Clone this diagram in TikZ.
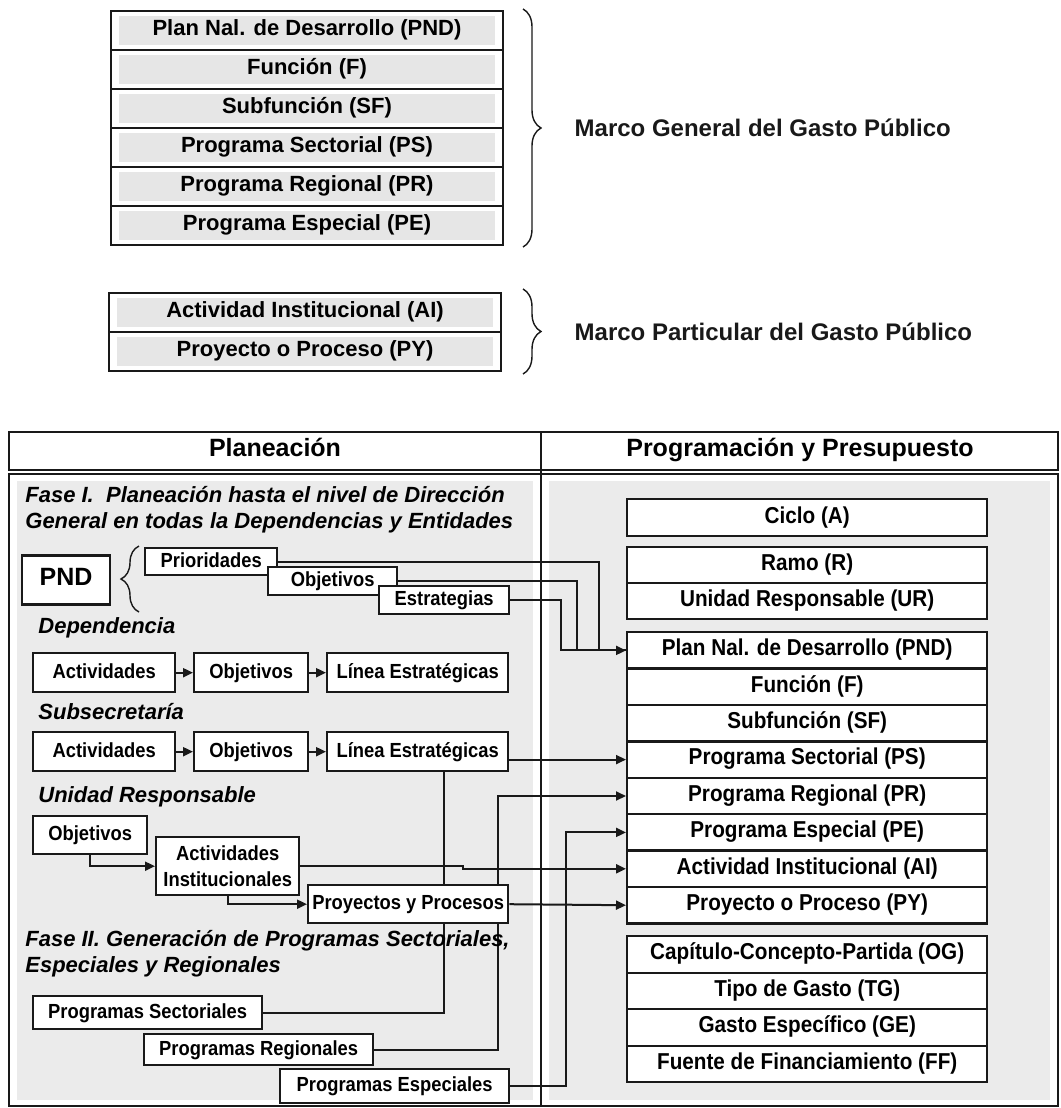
\documentclass[tikz,border=0pt]{standalone}
\usepackage{fontspec}
\setmainfont{Liberation Sans}
\newfontfamily\condfont{Liberation Sans}[FakeStretch=0.9]
\usepackage{tikz}
\usetikzlibrary{arrows.meta, positioning, calc, decorations.pathreplacing}
\definecolor{inkdark}{RGB}{25,25,25}
\definecolor{panelgray}{RGB}{235,235,235}
\definecolor{stackgray}{RGB}{230,230,230}
\pgfdeclarelayer{bg}
\pgfdeclarelayer{wires}
\pgfsetlayers{bg,wires,main}
\tikzset{
  stackrow/.style={rectangle, draw=inkdark, fill=white, line width=1pt,
    minimum width=196pt, minimum height=19.5pt, inner sep=0pt,
    text height=0.74em, text depth=0.21em,
    font=\bfseries\fontsize{11}{13}\selectfont,
    path picture={\fill[stackgray] ([shift={(4pt,-2.5pt)}]path picture bounding box.north west)
      rectangle ([shift={(-4pt,2.5pt)}]path picture bounding box.south east);}},
  rowbox/.style={rectangle, draw=inkdark, fill=white, line width=1.2pt,
    minimum width=180pt, inner sep=0pt, text height=0.74em, text depth=0.21em,
    font=\condfont\bfseries\fontsize{11.5}{13}\selectfont},
  smallbox/.style={rectangle, draw=inkdark, fill=white, line width=1.2pt,
    inner sep=0pt, align=center, text height=0.74em, text depth=0.21em,
    font=\condfont\bfseries\fontsize{10.2}{13}\selectfont},
  phase/.style={font=\bfseries\itshape\fontsize{11}{13}\selectfont,
    inner sep=0pt, anchor=west, align=left},
  hdr/.style={font=\bfseries\fontsize{12.5}{15}\selectfont, inner sep=0pt,
    text height=0.74em, text depth=0.21em},
  marco/.style={font=\bfseries\fontsize{12}{14}\selectfont, inner sep=0pt},
  brc/.style={decorate, decoration={brace, amplitude=9pt}, line width=0.7pt, inkdark},
  tabline/.style={line width=0.9pt, inkdark},
  conn/.style={line width=1pt, inkdark},
  arrow/.style={conn, -{Triangle[length=5pt, width=4.5pt]}}
}

\begin{document}
\begin{tikzpicture}[x=0.5pt, y=-0.5pt]
  \useasboundingbox (0,0) rectangle (1060,1108);

  % marco general
  \foreach \nm/\txt [count=\i from 0] in {mpnd/Plan Nal. de Desarrollo (PND), mf/Función (F),
      msf/Subfunción (SF), mps/Programa Sectorial (PS), mpr/Programa Regional (PR),
      mpe/Programa Especial (PE)}
    \node[stackrow, anchor=north west] (\nm) at (110,{10+38.9*\i}) {\txt};
  \draw[brc] (523,9) -- (523,247)
    node[midway, right=25.5pt, marco] (mgen) {Marco General del Gasto Público};

  % marco particular
  \node[stackrow, anchor=north west] (mai) at (108,292) {Actividad Institucional (AI)};
  \node[stackrow, anchor=north west] (mpy) at (108,331) {Proyecto o Proceso (PY)};
  \draw[brc] (523,289) -- (523,374)
    node[midway, right=25.5pt, marco] (mpart) {Marco Particular del Gasto Público};

  % table
  \begin{pgfonlayer}{bg}
    \fill[panelgray] (17,481) rectangle (533,1100);
    \fill[panelgray] (549,481) rectangle (1050,1100);
  \end{pgfonlayer}
  \draw[tabline] (9,432) rectangle (1058,470);
  \draw[tabline] (9,474) rectangle (1058,1106);
  \draw[tabline] (541,432) -- (541,1106);
  \node[hdr] (hplan) at (275,451) {Planeación};
  \node[hdr] (hprog) at (800,451) {Programación y Presupuesto};

  % planeacion
  \node[phase] (fase1) at (25,510) {Fase I.\ \ Planeación hasta el nivel de Dirección\\General en todas la Dependencias y Entidades};
  \node[smallbox, minimum width=44pt, minimum height=24.5pt,
    font=\bfseries\fontsize{12.5}{14}\selectfont] (pnd) at (66,580) {PND};
  \draw[brc] (139,612) -- (139,546);
  \node[smallbox, anchor=north west, minimum width=66pt, minimum height=13.5pt] (prio) at (144,547) {Prioridades};
  \node[smallbox, anchor=north west, minimum width=64.5pt, minimum height=14pt] (obj0) at (267,566) {Objetivos};
  \node[smallbox, anchor=north west, minimum width=65pt, minimum height=14pt] (estr) at (378,585) {Estrategias};

  \node[phase] (dep) at (38,628) {Dependencia};
  \node[smallbox, anchor=north west, minimum width=71pt, minimum height=19.5pt] (act1) at (32,652) {Actividades};
  \node[smallbox, anchor=north west, minimum width=57pt, minimum height=19.5pt] (obj1) at (193,652) {Objetivos};
  \node[smallbox, anchor=north west, minimum width=90.5pt, minimum height=19.5pt] (lin1) at (326,652) {Línea Estratégicas};

  \node[phase] (subs) at (38,712) {Subsecretaría};
  \node[smallbox, anchor=north west, minimum width=71pt, minimum height=19.5pt] (act2) at (32,731) {Actividades};
  \node[smallbox, anchor=north west, minimum width=57pt, minimum height=19.5pt] (obj2) at (193,731) {Objetivos};
  \node[smallbox, anchor=north west, minimum width=90.5pt, minimum height=19.5pt] (lin2) at (326,731) {Línea Estratégicas};

  \node[phase] (ures) at (38,797) {Unidad Responsable};
  \node[smallbox, anchor=north west, minimum width=57pt, minimum height=19pt] (obj3) at (32,815) {Objetivos};
  \node[smallbox, anchor=north west, minimum width=71.5pt, minimum height=29pt,
    text height=, text depth=] (actinst) at (155,836) {Actividades\\Institucionales};
  \node[smallbox, anchor=north west, minimum width=100pt, minimum height=19pt] (proy) at (307,884) {Proyectos y Procesos};

  \node[phase] (fase2) at (25,954) {Fase II. Generación de Programas Sectoriales,\\Especiales y Regionales};
  \node[smallbox, anchor=north west, minimum width=114.5pt, minimum height=16.5pt] (psect) at (32,995) {Programas Sectoriales};
  \node[smallbox, anchor=north west, minimum width=114.5pt, minimum height=15.5pt] (preg) at (143,1033) {Programas Regionales};
  \node[smallbox, anchor=north west, minimum width=114.5pt, minimum height=17pt] (pesp) at (279,1068) {Programas Especiales};

  % programacion y presupuesto
  \node[rowbox, anchor=north west, minimum height=18.5pt] (ciclo) at (626,498) {Ciclo (A)};
  \node[rowbox, anchor=north west, minimum height=18pt] (ramo) at (626,546) {Ramo (R)};
  \node[rowbox, anchor=north west, minimum height=18pt] (ur) at (626,582) {Unidad Responsable (UR)};
  \foreach \nm/\txt [count=\i from 0] in {rpnd/Plan Nal. de Desarrollo (PND), rf/Función (F),
      rsf/Subfunción (SF), ps/Programa Sectorial (PS), pr/Programa Regional (PR),
      pe/Programa Especial (PE), ai/Actividad Institucional (AI), py/Proyecto o Proceso (PY)}
    \node[rowbox, anchor=north west, minimum height=18.2pt] (\nm) at (626,{631+36.4*\i}) {\txt};
  \foreach \nm/\txt [count=\i from 0] in {og/Capítulo-Concepto-Partida (OG), tg/Tipo de Gasto (TG),
      ge/Gasto Específico (GE), ff/Fuente de Financiamiento (FF)}
    \node[rowbox, anchor=north west, minimum height=18.25pt] (\nm) at (626,{935+36.5*\i}) {\txt};

  % connectors
  \begin{pgfonlayer}{wires}
    \draw[conn] (prio.east) -| ([xshift=-13.5pt]rpnd.west) -- (rpnd.west);
    \draw[conn] (obj0.east) -| ([xshift=-24.5pt]rpnd.west) -- (rpnd.west);
    \draw[arrow] (estr.east) -| ([xshift=-32.5pt]rpnd.west) -- (rpnd.west);
    \draw[arrow] (act1) -- (obj1);
    \draw[arrow] (obj1) -- (lin1);
    \draw[arrow] (act2) -- (obj2);
    \draw[arrow] (obj2) -- (lin2);
    \draw[arrow] (lin2.east |- ps.west) -- (ps.west);
    \draw[conn] ([xshift=13.25pt]lin2.south) |- (psect.east);
    \draw[arrow] (obj3.south) |- (actinst.west);
    \draw[arrow] (actinst.south) |- (proy.west);
    \draw[arrow] (actinst.east) -- ++(163,0) |- (ai.west);
    \draw[arrow] (proy.east) -- (py.west);
    \draw[arrow] (preg.east) -| ([xshift=-64pt]pr.west) -- (pr.west);
    \draw[arrow] (pesp.east) -| ([xshift=-30pt]pe.west) -- (pe.west);
  \end{pgfonlayer}
\end{tikzpicture}
\end{document}
